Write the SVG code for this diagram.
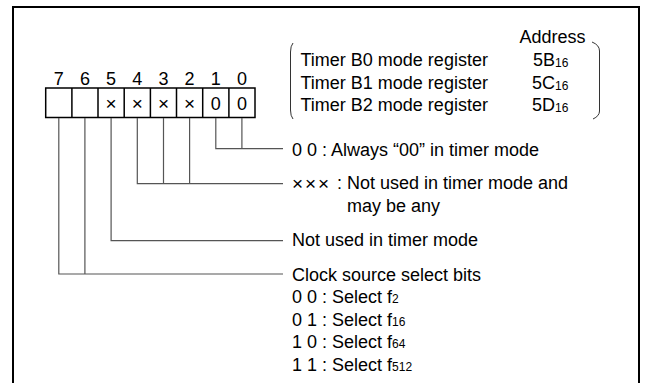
<svg xmlns="http://www.w3.org/2000/svg" width="648" height="383" viewBox="0 0 648 383">
<style>
text{font-family:"Liberation Sans",Arial,sans-serif;fill:#000}
.t{font-size:18px}
.b{font-size:18px;text-anchor:middle}
.s{font-size:12px}
.x{font-size:19px;text-anchor:middle}
.conn{fill:none;stroke:#555;stroke-width:1.2}
.cell{fill:none;stroke:#000;stroke-width:1.5}
.br{fill:none;stroke:#333;stroke-width:1}
</style>
<rect width="648" height="383" fill="#fff"/>
<path d="M13,390 V7 H639 V390" fill="none" stroke="#000" stroke-width="2"/>

<g id="register">
<g class="b">
<text x="58.8" y="85">7</text><text x="84.9" y="85">6</text><text x="111.1" y="85">5</text><text x="137.3" y="85">4</text>
<text x="163.5" y="85">3</text><text x="189.6" y="85">2</text><text x="215.8" y="85">1</text><text x="241.9" y="85">0</text>
</g>
<rect class="cell" x="45.7" y="88" width="209.3" height="29.5"/>
<path class="cell" d="M71.9,88V117.5M98,88V117.5M124.2,88V117.5M150.4,88V117.5M176.5,88V117.5M202.7,88V117.5M228.9,88V117.5"/>
<g class="x">
<text x="111.1" y="109.5">×</text><text x="137.3" y="109.5">×</text><text x="163.5" y="109.5">×</text><text x="189.6" y="109.5">×</text>
</g>
<text class="b" x="215.8" y="110">0</text><text class="b" x="241.9" y="110">0</text>
</g>

<g id="registers">
<path class="br" d="M293,43 Q290.5,46 290.5,52 V110 Q290.5,116 293,119"/>
<path class="br" d="M592,42 Q599.5,45 599.5,51 V111 Q599.5,116 593,119"/>
<text class="t" x="519.5" y="43">Address</text>
<text class="t" x="300.5" y="66">Timer B0 mode register</text>
<text class="t" x="300.5" y="88.5">Timer B1 mode register</text>
<text class="t" x="300.5" y="111">Timer B2 mode register</text>
<text class="t" x="533" y="66">5B<tspan class="s" dy="1">16</tspan></text>
<text class="t" x="532" y="88.5">5C<tspan class="s" dy="1">16</tspan></text>
<text class="t" x="532" y="111">5D<tspan class="s" dy="1">16</tspan></text>
</g>

<g id="connectors">
<path class="conn" d="M215.8,118V148.7H283M241.9,118V148.7"/>
<path class="conn" d="M137.3,118V183.7H283M163.5,118V183.7M189.6,118V183.7"/>
<path class="conn" d="M111.1,118V240.7H283"/>
<path class="conn" d="M58.8,118V274H283M84.9,118V274"/>
</g>

<g id="bits10">
<text class="t" x="292" y="156">0 0 : Always “00” in timer mode</text>
</g>
<g id="bits432">
<text x="292" y="190" style="font-size:19px">×<tspan x="305">×</tspan><tspan x="318">×</tspan></text>
<text class="t" x="337" y="189">:</text>
<text class="t" x="347" y="189">Not used in timer mode and</text>
<text class="t" x="347" y="211.5">may be any</text>
</g>
<g id="bit5">
<text class="t" x="292" y="246">Not used in timer mode</text>
</g>
<g id="bits76">
<text class="t" x="292" y="280.5">Clock source select bits</text>
<text class="t" x="292" y="303">0 0 : Select f<tspan class="s">2</tspan></text>
<text class="t" x="292" y="325.5">0 1 : Select f<tspan class="s">16</tspan></text>
<text class="t" x="292" y="348">1 0 : Select f<tspan class="s">64</tspan></text>
<text class="t" x="292" y="370.5">1 1 : Select f<tspan class="s">512</tspan></text>
</g>
</svg>
